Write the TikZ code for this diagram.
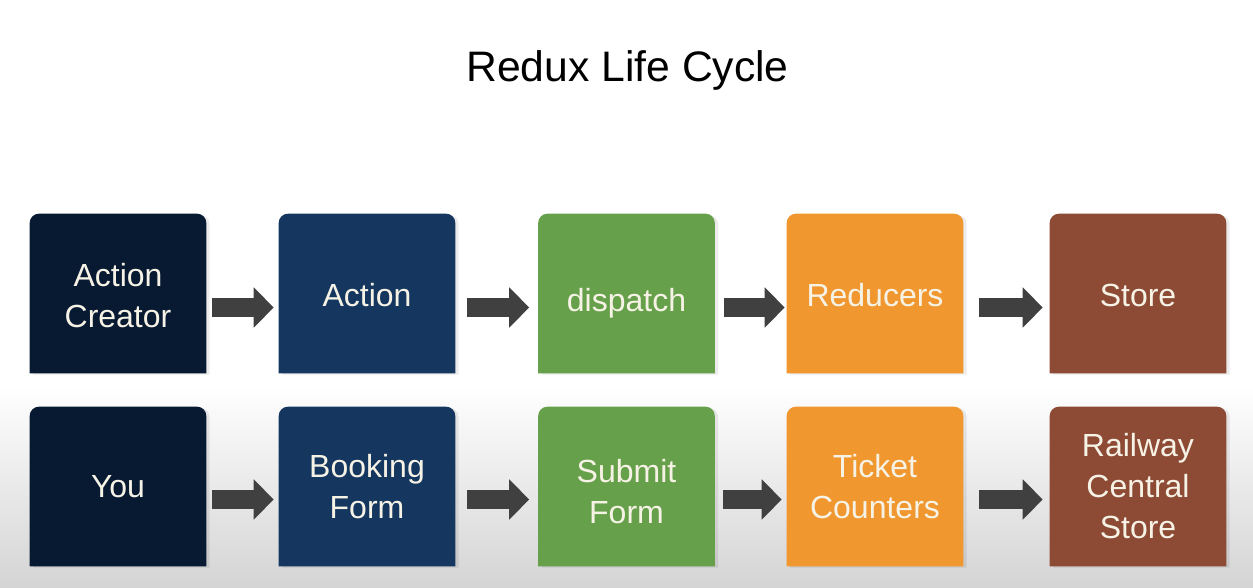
\documentclass[tikz,border=0pt]{standalone}
\usepackage{fontspec}
\setmainfont{Liberation Sans}
\usetikzlibrary{arrows.meta,backgrounds}
\pgfdeclarelayer{back}
\pgfsetlayers{back,background,main}
\definecolor{cNavy}{HTML}{071A32}
\definecolor{cBlue}{HTML}{14365F}
\definecolor{cGreen}{HTML}{67A04A}
\definecolor{cOrange}{HTML}{F0972F}
\definecolor{cBrown}{HTML}{8D4B35}
\definecolor{cArrow}{HTML}{404040}
\definecolor{cText}{HTML}{F6F3E6}
\definecolor{cBgBot}{HTML}{D4D4D4}
\tikzset{
  stage/.style={rectangle, minimum width=132pt, minimum height=119.25pt, inner sep=0pt,
    align=center, text=cText, font=\fontsize{24}{30.75}\selectfont},
  flow/.style={draw=cArrow, line width=14.25pt,
    -{Triangle[width=29.25pt, length=15pt]}},
  titletext/.style={font=\fontsize{32}{40}\selectfont, text=black}
}
\begin{document}
\begin{tikzpicture}[x=0.75pt,y=-0.75pt]
\useasboundingbox (0,0) rectangle (1253,588);
\begin{pgfonlayer}{back}
  \fill[white] (0,0) rectangle (1253,588);
  \shade[top color=white, bottom color=cBgBot] (0,385) rectangle (1253,588);
\end{pgfonlayer}

\node[titletext] (title) at (627.5,70) {Redux Life Cycle};

% row 1
\node[stage, text height=50.5pt, text depth=0pt] (ac)  at (118,293.5) {Action\\Creator};
\node[stage, text height=19.5pt, text depth=0pt] (act) at (367,293.5) {Action};
\node[stage, text height=26.25pt, text depth=0pt] (dis) at (626.5,293.5) {dispatch};
\node[stage, text height=19.5pt, text depth=0pt] (red) at (875,293.5) {Reducers};
\node[stage, text height=19.5pt, text depth=0pt] (sto) at (1138,293.5) {Store};
% row 2
\node[stage] (you) at (118,486.5) {You};
\node[stage] (bf)  at (367,486.5) {Booking\\Form};
\node[stage, text height=55.75pt, text depth=0pt] (sf) at (626.5,486.5) {Submit\\Form};
\node[stage] (tc)  at (875,486.5) {Ticket\\Counters};
\node[stage] (rcs) at (1138,486.5) {Railway\\Central\\Store};

\begin{pgfonlayer}{background}
\foreach \n/\c in {ac/cNavy, act/cBlue, dis/cGreen, red/cOrange, sto/cBrown,
                   you/cNavy, bf/cBlue, sf/cGreen, tc/cOrange, rcs/cBrown}{
  \fill[black, opacity=0.08] ([xshift=2.5pt,yshift=-1pt]\n.west) [rounded corners=6.75pt]
     -- ([xshift=2.5pt,yshift=-1pt]\n.north west) -- ([xshift=2.5pt,yshift=-1pt]\n.north east)
     -- ([xshift=2.5pt,yshift=-1pt]\n.east) [sharp corners]
     -- ([xshift=2.5pt,yshift=-1pt]\n.south east) -- ([xshift=2.5pt,yshift=-1pt]\n.south west) -- cycle;
  \fill[\c] (\n.west) [rounded corners=6.75pt] -- (\n.north west) -- (\n.north east)
     -- (\n.east) [sharp corners] -- (\n.south east) -- (\n.south west) -- cycle;
}
\end{pgfonlayer}

% arrows row 1
\draw[flow, shorten <=4.5pt, shorten >=3.75pt] ([yshift=-10.5pt]ac.east)  -- ([yshift=-10.5pt]act.west);
\draw[flow, shorten <=9pt,   shorten >=6.75pt] ([yshift=-10.5pt]act.east) -- ([yshift=-10.5pt]dis.west);
\draw[flow, shorten <=6.75pt,shorten >=1.5pt]  ([yshift=-10.5pt]dis.east) -- ([yshift=-10.5pt]red.west);
\draw[flow, shorten <=12pt,  shorten >=5.25pt] ([yshift=-10.5pt]red.east) -- ([yshift=-10.5pt]sto.west);
% arrows row 2
\draw[flow, shorten <=4.5pt, shorten >=3.75pt] ([yshift=-9.75pt]you.east) -- ([yshift=-9.75pt]bf.west);
\draw[flow, shorten <=9pt,   shorten >=6.75pt] ([yshift=-9.75pt]bf.east)  -- ([yshift=-9.75pt]sf.west);
\draw[flow, shorten <=6pt,   shorten >=3.75pt] ([yshift=-9.75pt]sf.east)  -- ([yshift=-9.75pt]tc.west);
\draw[flow, shorten <=12pt,  shorten >=5.25pt] ([yshift=-9.75pt]tc.east)  -- ([yshift=-9.75pt]rcs.west);
\end{tikzpicture}
\end{document}
